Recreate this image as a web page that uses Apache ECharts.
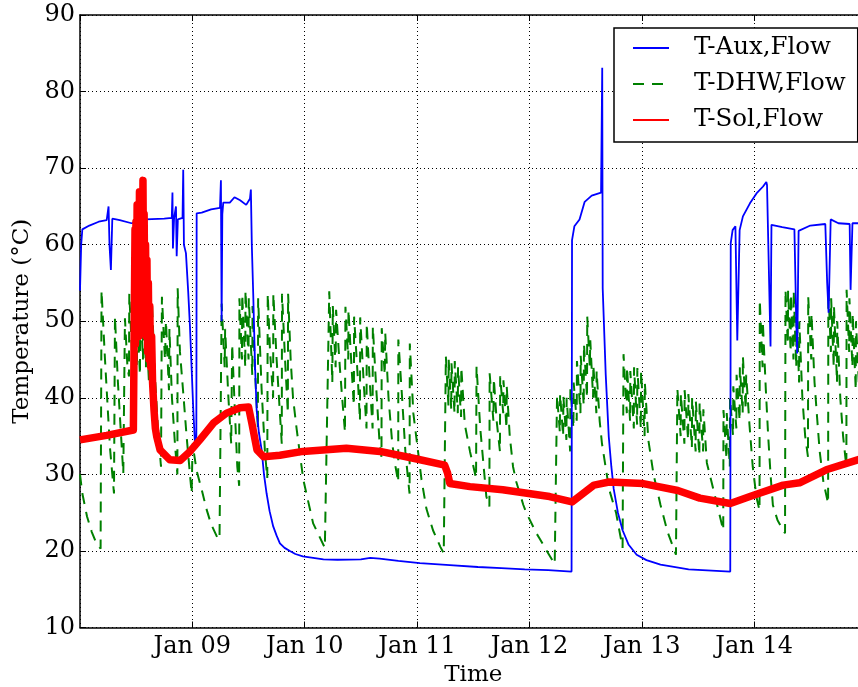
<!DOCTYPE html>
<html>
<head>
<meta charset="utf-8">
<script src="https://cdn.jsdelivr.net/npm/echarts@6/dist/echarts.min.js"></script>
<style>
html,body{margin:0;padding:0;background:#fff;}
#chart{width:858px;height:687px;}
</style>
</head>
<body>
<div id="chart"></div>
<script>
// hours since Jan 08 00:00, temperature in °C
const xTickLabels = ['', 'Jan 09', 'Jan 10', 'Jan 11', 'Jan 12', 'Jan 13', 'Jan 14', ''];
const yTicks = [10, 20, 30, 40, 50, 60, 70, 80, 90];
const seriesNames = ['T-Aux,Flow', 'T-DHW,Flow', 'T-Sol,Flow'];

const auxFlow = [
  [0,54],[0.25,60],[0.5,62],[2,62.5],[4,63],[5.7,63.2],[6.1,65],[6.3,60],[6.6,56.7],[6.9,63.4],
  [8.5,63.2],[11,62.8],[14,63.3],[18,63.4],[19.6,63.5],[19.75,66.8],[19.85,59.5],[20.1,63.5],
  [20.5,65],[20.65,58.5],[20.9,63.3],[21.9,63.5],[22.05,69.8],[22.2,60],[22.63,58.9],[23.1,54],
  [23.49,49.3],[23.9,43],[24.2,38.4],[24.55,34.1],[24.85,35],[24.92,64.1],[26,64.2],[28,64.6],
  [29.9,64.8],[30.1,68.4],[30.25,50],[30.4,64],[30.6,65.5],[32,65.5],[33,66.2],[34.2,65.8],
  [35.5,65.2],[36.3,66],[36.5,67.2],[36.7,60],[37.0,53.6],[37.4,44],[37.73,38.4],[38.2,35.5],
  [38.8,33.2],[39.3,30],[39.86,27.5],[40.5,25.2],[41.27,23.2],[42.0,22],[42.7,21],[43.7,20.4],
  [44.84,20.0],[46,19.6],[47.6,19.3],[52,18.9],[55,18.85],[60,18.9],[62,19.1],[64,19.0],[68,18.7],
  [72.6,18.4],[79,18.15],[85,17.9],[90,17.75],[95,17.6],[100,17.5],[105.0,17.3],[105.1,60.6],
  [105.6,62.4],[106.7,63.3],[107.8,65.6],[109.3,66.4],[111.3,66.8],[111.45,67],[111.55,83.1],
  [111.65,54.3],[112.3,43],[112.95,34.9],[113.5,31],[114,28.1],[114.9,25],[115.9,22.7],
  [117.2,20.8],[118.9,19.5],[121,18.8],[124,18.2],[130,17.6],[138.9,17.3],[139.0,60.2],
  [139.4,61.9],[140.0,62.4],[140.4,47.5],[140.9,61.9],[141.6,63.7],[143.1,65.4],[144.5,66.7],
  [145.9,67.6],[146.6,68.2],[146.75,67.8],[147.5,46.7],[147.7,62.6],[150,62.3],[152.6,62],
  [153.0,50],[153.2,45.8],[153.5,61.8],[156,62.5],[159.2,62.7],[159.6,55],[159.9,51.1],
  [160.35,63.3],[162,62.8],[164.4,62.7],[164.6,54.1],[165.0,62.8],[166.1,62.8],[168,62.8]
];

const dhwFlow = [
  [0,30],[0.5,27.5],[1.5,24.5],[2.5,22.5],[3.5,21],[4.4,20.3],[4.6,54],[5.34,45],[5.98,38],
  [6.4,33.5],[7.26,27.5],[7.47,50.6],[8.1,42],[8.97,33],[9.25,30.1],[9.6,50.4],[10.14,44],
  [10.46,42.8],[10.53,53.6],[11.1,46],[11.4,43],[11.5,52],[12.17,44],[12.2,51],[12.81,43],
  [12.85,53],[13.45,45],[13.5,52],[14.09,44],[14.1,50],[14.73,42],[14.8,53],[15.37,44],
  [15.4,52],[16.0,43],[16.65,36],[17.3,31],[17.5,53.2],[18.15,45],[18.36,50],[19.0,41],
  [19.1,49],[19.64,40],[20.28,34],[20.8,30],[20.86,54.3],[21.35,46],[22.06,40.6],[22.78,34.9],
  [23.85,27.5],[24.0,27.5],[24.05,34],[24.9,30.5],[26,28],[27,25.5],[28,23.5],[29.3,21.8],
  [29.8,21.5],[30.26,52.3],[30.9,44],[31.0,49],[31.7,40],[32.3,34],[32.5,47],[33.1,38],
  [33.6,31],[34.0,28.5],[34.05,53],[34.6,45],[34.65,53.5],[35.3,44],[35.35,54],[36.0,45],
  [36.05,53],[36.8,43],[36.85,52],[37.5,42],[38.0,36],[38.05,53],[38.8,41],[39.5,33],
  [40.0,29.5],[40.1,53.6],[40.6,46],[41.25,40],[41.3,53.6],[42.0,45],[42.6,39],[43.1,34],
  [43.15,53.6],[43.8,45],[44.4,38],[44.45,53.6],[45.0,45],[45.5,40],[46.3,35.8],[47.7,29.3],
  [49.8,23.6],[52.3,20.4],[53.24,53.9],[53.9,42],[54.0,52],[54.6,44],[54.7,51.5],[55.5,44],
  [56.0,40],[56.6,35.5],[56.7,51.9],[57.3,45],[57.35,51.5],[58.0,44],[58.5,39],[58.55,50.6],
  [59.3,43],[59.8,37],[59.85,50.5],[60.6,42],[61.2,36],[61.25,49.7],[61.9,42],[62.5,36],
  [62.55,49.3],[63.3,41],[64.0,34],[64.4,32.3],[64.45,49.1],[65.1,43],[65.2,48.5],[65.9,40],
  [66.7,34],[67.4,31],[67.97,29],[68.0,47.6],[68.8,40],[69.5,33],[70.3,28],[70.4,27.5],
  [70.45,47.1],[71.2,38],[72.95,29.3],[74.0,25.5],[75.4,22.7],[77.0,20.5],[77.7,19.7],
  [78.15,45.4],[78.7,39],[78.75,45],[79.3,38.5],[79.35,44.5],[80.0,38],[80.05,44.8],[80.7,38],
  [80.75,44],[81.4,37.5],[81.45,44],[82.2,36.5],[83.3,33],[84.6,29.5],[84.7,44.1],[85.5,36],
  [86.8,27.1],[87.45,25.8],[87.5,43.2],[88.3,37],[88.4,42.5],[89.0,37],[89.7,33],[89.75,42.8],
  [90.4,38],[90.45,42.3],[91.1,36],[91.15,41.5],[91.8,35],[92.5,31],[93.2,29],[94.7,26],
  [95.4,24.9],[97.5,22.3],[98.2,21.6],[99.6,20.1],[101.4,18.3],[101.9,40.3],[102.5,35.5],
  [102.55,40.5],[103.2,35],[103.25,40.2],[103.9,34.5],[103.95,40],[104.7,33],[104.75,41.2],
  [105.4,36],[105.45,42],[106.1,37],[106.15,44.8],[106.9,38],[106.95,45.5],[107.6,39],
  [107.65,47],[108.3,40],[108.35,50.6],[108.9,44],[109.0,47.5],[109.6,40],[109.65,44.3],
  [110.3,38],[110.35,43.5],[111.0,37],[111.5,34],[113.0,28.1],[114.5,25],[115.9,20.4],
  [116.1,45.7],[116.8,38],[116.85,44],[117.5,37],[117.55,43.5],[118.3,36],[118.35,44],
  [119.0,36.5],[119.05,43.9],[119.8,36],[119.85,43.5],[120.6,35],[120.65,42],[121.4,34.5],
  [122.5,30],[124.0,26],[125.5,22.5],[127.3,19.5],[127.6,41.2],[128.3,35],[128.35,40.5],
  [129.1,34],[129.15,41],[129.9,34.5],[129.95,40.5],[130.7,33.5],[130.75,40],[131.5,33],
  [131.55,39.5],[132.3,32.5],[132.35,39.3],[133.1,33],[133.15,38.5],[133.9,31.5],[134.5,30],
  [135.5,27.5],[136.5,25],[137.4,22.7],[137.45,38.4],[138.1,32],[138.15,38],[138.8,31],
  [138.85,40],[139.5,35],[139.55,41.5],[140.2,36],[140.25,43],[140.9,37],[140.95,44],
  [141.55,38],[141.6,45.4],[142.2,38.5],[142.3,43],[143.0,36.5],[143.7,31],[144.5,27],
  [145.15,25.3],[145.2,52.8],[145.8,44],[145.85,50],[146.5,41],[147.0,35],[147.5,30],
  [148.0,26],[149.0,24],[150.6,22.3],[150.7,54.1],[151.2,47],[151.25,54],[151.8,46],
  [151.85,53.5],[152.4,45],[152.45,54],[153.0,44],[153.05,52],[153.6,42],[153.65,50],
  [154.3,40],[154.9,35],[155.5,32.3],[155.55,53.2],[156.2,45],[156.25,51],[156.9,42],
  [157.5,37],[158.0,33],[158.8,29],[159.8,26.2],[159.85,54.1],[160.4,46],[160.45,53],
  [161.0,44],[161.05,52],[161.7,42],[161.75,50],[162.4,40],[163.0,35],[163.7,31],
  [163.75,54.1],[164.3,46],[164.35,53],[165.0,44],[165.05,51],[165.7,41],[165.75,50],
  [166.5,40],[167.2,35],[168,32]
];

const solFlow = [
  [0,34.5],[5.7,35.1],[11.4,35.8],[11.7,35.8],[11.75,62],[11.85,47],[11.95,63],[12.05,50],
  [12.2,65.2],[12.3,52],[12.45,60],[12.55,48],[12.7,66.9],[12.8,55],[12.9,63],[13.0,50],
  [13.15,65],[13.3,57],[13.45,68.4],[13.55,58],[13.7,64],[13.85,52],[14.0,60],[14.15,48],
  [14.3,58],[14.45,46],[14.6,55],[14.75,45],[14.9,52],[15.1,44],[15.3,48],[15.5,42],
  [15.8,38.5],[16.1,36],[16.4,34.9],[17.1,33.2],[19.2,31.9],[21.4,31.8],[23.5,33.0],
  [25.6,34.5],[28.5,36.7],[31.3,38.0],[34.2,38.7],[36.0,38.8],[36.7,36.7],[37.8,33.2],
  [39.2,32.3],[42.7,32.5],[47.6,33.0],[56.9,33.4],[64.1,33.0],[71.2,32.1],[77.9,31.2],
  [78.5,30.2],[79.0,28.8],[83.3,28.4],[90.3,28.0],[100.3,27.1],[105.1,26.4],[109.8,28.6],
  [113,29.0],[120.3,28.8],[127.7,27.9],[132.4,26.9],[138.9,26.2],[143.1,27.1],[150.2,28.6],
  [153.7,28.9],[159.4,30.6],[166.1,31.9],[168,32.2]
];

const serif = '"DejaVu Serif", "Liberation Serif", serif';
const chart = echarts.init(document.getElementById('chart'), null, {renderer: 'canvas'});
const gridLine = {show: true, lineStyle: {color: '#000', width: 1, type: [1, 3]}};
const axisLine = {show: true, lineStyle: {color: '#000', width: 1.5}};
const tick = {show: true, inside: true, length: 6, lineStyle: {color: '#000', width: 1}};

chart.setOption({
  animation: false,
  backgroundColor: '#fff',
  grid: {left: 80, right: -8.5, top: 15, bottom: 59.5, containLabel: false, outerBoundsMode: 'none'},
  legend: {
    orient: 'vertical', left: 614, top: 28,
    padding: [7, 12, 9, 18],
    itemWidth: 36, itemHeight: 14, itemGap: 10,
    borderColor: '#000', borderWidth: 1.5, borderRadius: 0, backgroundColor: '#fff',
    itemStyle: {opacity: 0, borderWidth: 0},
    textStyle: {fontFamily: serif, fontSize: 24.5, color: '#000', lineHeight: 26, padding: [0, 0, 0, 20]},
    data: [
      {name: seriesNames[0]},
      {name: seriesNames[1]},
      {name: seriesNames[2], lineStyle: {width: 2}}
    ]
  },
  xAxis: [{
    type: 'value', min: 0, max: 168, interval: 24,
    name: 'Time', nameLocation: 'middle', nameGap: 36,
    nameTextStyle: {fontFamily: serif, fontSize: 23, color: '#000'},
    axisLine: axisLine, axisTick: tick, splitLine: gridLine,
    axisLabel: {
      fontFamily: serif, fontSize: 24, color: '#000', margin: 7,
      showMinLabel: false, showMaxLabel: false,
      formatter: v => xTickLabels[Math.round(v / 24)] || ''
    }
  }, {
    type: 'value', position: 'top', min: 0, max: 168, interval: 24,
    axisLine: axisLine, axisTick: tick, splitLine: {show: false}, axisLabel: {show: false}
  }],
  yAxis: {
    type: 'value', min: yTicks[0], max: yTicks[yTicks.length - 1], interval: 10,
    name: 'Temperature (°C)', nameLocation: 'middle', nameGap: 34,
    nameTextStyle: {fontFamily: serif, fontSize: 23, color: '#000'},
    axisLine: axisLine, axisTick: tick, splitLine: gridLine,
    axisLabel: {fontFamily: serif, fontSize: 24, color: '#000', margin: 5}
  },
  series: [
    {name: seriesNames[0], type: 'line', data: auxFlow, symbol: 'none', z: 3,
     lineStyle: {color: '#0000ff', width: 1.8}, itemStyle: {color: '#0000ff'}},
    {name: seriesNames[1], type: 'line', data: dhwFlow, symbol: 'none', z: 2,
     lineStyle: {color: '#008000', width: 2, type: [11, 8]}, itemStyle: {color: '#008000'}},
    {name: seriesNames[2], type: 'line', data: solFlow, symbol: 'none', z: 4,
     lineStyle: {color: '#ff0000', width: 7.5, join: 'round'}, itemStyle: {color: '#ff0000'}}
  ]
});
</script>
</body>
</html>
